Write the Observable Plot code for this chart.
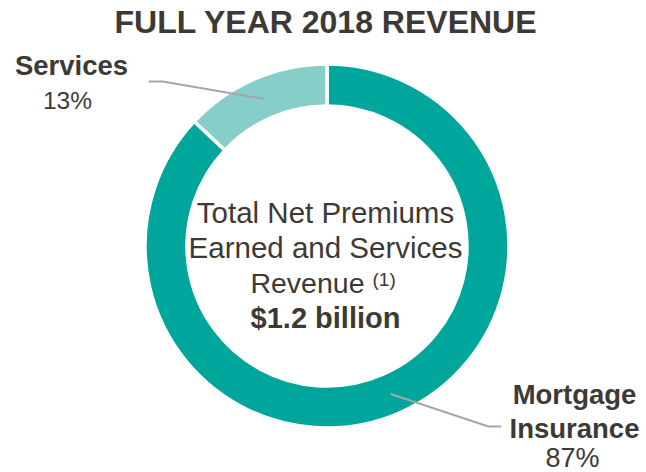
<!DOCTYPE html>
<html><head><meta charset="utf-8">
<script src="https://cdn.jsdelivr.net/npm/d3@7"></script>
<script src="https://cdn.jsdelivr.net/npm/@observablehq/plot@0.6"></script>
<style>body{margin:0;background:#fff}svg{display:block}</style>
</head><body><div id="chart"></div>
<script>
// ---- data ----
const title = "FULL YEAR 2018 REVENUE";
const categories = ["Mortgage Insurance", "Services"];
const shares = [87, 13];
const colors = ["#00A59B", "#87CEC9"];
const labelNames = [["Mortgage", "Insurance"], ["Services"]];
const centerLines = ["Total Net Premiums", "Earned and Services", "Revenue"];
const centerNote = "(1)";
const centerValue = "$1.2 billion";

// ---- layout ----
const W = 646, H = 472;
const cx = 327, cy = 246, R = 182, r = 140, rLeader = 161;
const ink = "#3d3935", font = "Liberation Sans, Arial, sans-serif";
const labelLayout = [
  {x: 574, ys: [403, 437, 466], pctX: 572, pctSize: 27, elbow: [488, 426], end: [500, 426]},
  {x: 71, ys: [74, 108], pctX: 67, pctSize: 24.5, elbow: [162, 81], end: [149, 81]}
];

const rows = categories.map((c, i) => ({category: c, share: shares[i]}));
const arcs = d3.pie().sort(null).value(d => d.share)(rows);

// leader line points from slice mid-angles
const leaders = arcs.flatMap((a, i) => {
  const m = (a.startAngle + a.endAngle) / 2;
  const L = labelLayout[i];
  return [
    {k: i, x: cx + rLeader * Math.sin(m), y: cy - rLeader * Math.cos(m)},
    {k: i, x: L.elbow[0], y: L.elbow[1]},
    {k: i, x: L.end[0], y: L.end[1]}
  ];
});

const nameText = arcs.flatMap((a, i) =>
  labelNames[i].map((t, j) => ({t, x: labelLayout[i].x, y: labelLayout[i].ys[j]})));
const pctText = arcs.map((a, i) => ({
  t: `${a.data.share}%`, x: labelLayout[i].pctX,
  y: labelLayout[i].ys[labelNames[i].length], size: labelLayout[i].pctSize
}));

const donut = Plot.dot(arcs, {
  x: () => cx, y: () => cy, fill: d => d.data.category,
  render(index, scales, values) {
    const X = scales.x(cx), Y = scales.y(cy);
    const ro = scales.x(cx + R) - X, ri = scales.x(cx + r) - X;
    const arc = d3.arc().innerRadius(ri).outerRadius(ro);
    const g = d3.create("svg:g").attr("transform", `translate(${X},${Y})`);
    g.selectAll("path").data(index).join("path")
      .attr("d", i => arc(arcs[i]))
      .attr("fill", i => values.fill[i])
      .attr("stroke", "white").attr("stroke-width", 3.5);
    return g.node();
  }
});

const txt = (data, o) => Plot.text(data, {fontFamily: font, fill: ink, lineAnchor: "bottom", ...o});

const plot = Plot.plot({
  width: W, height: H, margin: 0,
  x: {domain: [0, W], range: [0, W], axis: null},
  y: {domain: [0, H], range: [0, H], axis: null},
  color: {domain: categories, range: colors},
  marks: [
    donut,
    Plot.line(leaders, {x: "x", y: "y", z: "k", stroke: "#a6a6a6", strokeWidth: 2}),
    txt([title], {x: 325, y: 32, text: d => d, fontSize: 32, fontWeight: "bold"}),
    txt(nameText, {x: "x", y: "y", text: "t", fontSize: 27.5, fontWeight: "bold"}),
    ...pctText.map(p => txt([p], {x: "x", y: "y", text: "t", fontSize: p.size})),
    txt(centerLines.slice(0, 2), {x: 325, y: (d, i) => 222 + i * 35, text: d => d, fontSize: 29.5}),
    txt([centerLines[2]], {x: 364, y: 292, text: d => d, fontSize: 28.5, textAnchor: "end"}),
    txt([centerNote], {x: 372, y: 285, text: d => d, fontSize: 19, textAnchor: "start"}),
    txt([centerValue], {x: 325, y: 327, text: d => d, fontSize: 29, fontWeight: "bold"})
  ]
});
document.getElementById("chart").append(plot);
</script>
</body></html>
